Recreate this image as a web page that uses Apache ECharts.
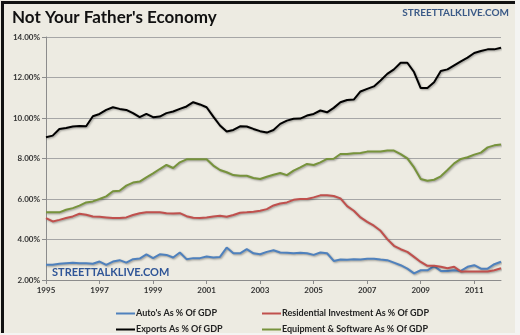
<!DOCTYPE html>
<html>
<head>
<meta charset="utf-8">
<script src="https://cdn.jsdelivr.net/npm/echarts@6/dist/echarts.min.js"></script>
<style>
html,body{margin:0;padding:0;background:#f4f4f2;}
#c{width:520px;height:335px;}
</style>
</head>
<body>
<div id="c"></div>
<script>
// Quarterly categories 1995Q1 .. 2012Q1
var quarters = [];
for (var y = 1995; y <= 2012; y++) { for (var q = 1; q <= 4; q++) { if (y === 2012 && q > 1) break; quarters.push(y + 'Q' + q); } }

var yTicks = [2, 4, 6, 8, 10, 12, 14];

var autos = [2.75,2.75,2.80,2.83,2.85,2.83,2.83,2.80,2.91,2.75,2.91,2.98,2.86,3.03,3.06,3.27,3.08,3.27,3.24,3.11,3.36,3.03,3.08,3.08,
3.16,3.11,3.14,3.60,3.32,3.32,3.52,3.32,3.27,3.39,3.47,3.36,3.34,3.32,3.34,3.32,3.24,3.36,3.32,2.94,3.01,3.00,
3.03,3.01,3.05,3.05,3.01,2.98,2.86,2.73,2.56,2.33,2.48,2.48,2.68,2.45,2.45,2.48,2.45,2.65,2.73,2.56,2.56,2.78,2.90];

var residential = [5.06,4.89,4.97,5.06,5.14,5.27,5.22,5.14,5.12,5.09,5.06,5.06,5.09,5.21,5.30,5.34,5.34,5.34,5.30,5.29,5.30,5.15,5.07,5.06,
5.09,5.14,5.17,5.12,5.21,5.32,5.34,5.37,5.42,5.50,5.68,5.78,5.83,5.96,6.00,6.00,6.08,6.18,6.18,6.15,6.03,5.65,
5.42,5.09,4.87,4.68,4.43,4.02,3.69,3.52,3.39,3.14,2.89,2.70,2.70,2.65,2.58,2.65,2.42,2.42,2.42,2.42,2.42,2.48,2.58];

var exports = [9.05,9.13,9.46,9.51,9.58,9.61,9.59,10.09,10.20,10.40,10.53,10.45,10.40,10.24,10.04,10.20,10.04,10.07,10.24,10.32,10.45,10.57,10.78,10.67,
10.53,10.07,9.63,9.33,9.41,9.59,9.58,9.46,9.35,9.28,9.41,9.71,9.87,9.96,9.97,10.12,10.20,10.37,10.28,10.50,10.78,10.89,
10.91,11.31,11.44,11.56,11.85,12.18,12.40,12.73,12.73,12.27,11.48,11.48,11.77,12.32,12.40,12.60,12.80,12.98,13.21,13.31,13.39,13.39,13.47];

var equipment = [5.34,5.34,5.34,5.47,5.55,5.67,5.83,5.88,6.00,6.13,6.38,6.41,6.66,6.81,6.86,7.07,7.27,7.48,7.68,7.53,7.81,7.96,7.96,7.96,
7.96,7.65,7.43,7.32,7.18,7.15,7.15,7.04,6.99,7.10,7.20,7.28,7.18,7.40,7.56,7.73,7.68,7.81,7.98,7.99,8.22,8.22,
8.26,8.27,8.34,8.34,8.35,8.39,8.39,8.22,8.01,7.56,6.99,6.90,6.95,7.12,7.43,7.76,7.98,8.06,8.19,8.29,8.55,8.65,8.69];

var names = ["Auto's As % Of GDP", "Residential Investment As % Of GDP", "Exports As % Of GDP", "Equipment & Software As % Of GDP"];
var colors = ['#4f81bd', '#c0504d', '#000000', '#77933c'];
var values = [autos, residential, exports, equipment];

var FONT = 'Lato, "Open Sans", sans-serif';
var chart = echarts.init(document.getElementById('c'), null, {renderer: 'canvas'});

var series = names.map(function (n, i) {
  return {
    name: n, type: 'line', data: values[i], symbol: 'none', smooth: false,
    lineStyle: {color: colors[i], width: 2, shadowColor: 'rgba(0,0,0,0.35)', shadowBlur: 2, shadowOffsetX: 1, shadowOffsetY: 1},
    itemStyle: {color: colors[i]}
  };
});

function legendAt(i, left, top) {
  return {
    data: [names[i]], left: left, top: top, orient: 'horizontal',
    icon: 'rect', itemWidth: 19, itemHeight: 2, itemGap: 0, padding: 0,
    textStyle: {fontFamily: FONT, fontSize: 9, fontWeight: 'bold', color: '#222', padding: [0, 0, 0, -4]}
  };
}

chart.setOption({
  backgroundColor: '#edebe2',
  animation: false,
  grid: {left: 46, right: 19, top: 37, bottom: 55},
  xAxis: {
    type: 'category', data: quarters, boundaryGap: false,
    axisLine: {lineStyle: {color: '#8c8c8c', width: 1}},
    axisTick: {show: true, interval: 7, length: 4, lineStyle: {color: '#8c8c8c'}},
    axisLabel: {interval: 7, fontFamily: FONT, fontSize: 8, fontWeight: 'bold', color: '#333', margin: 6,
      formatter: function (v) { return v.slice(0, 4); }},
    splitLine: {show: false}
  },
  yAxis: {
    type: 'value', min: yTicks[0], max: yTicks[yTicks.length - 1], interval: 2,
    axisLine: {show: true, lineStyle: {color: '#8c8c8c'}},
    axisTick: {show: true, length: 4, lineStyle: {color: '#8c8c8c'}},
    axisLabel: {fontFamily: FONT, fontSize: 8, fontWeight: 'bold', color: '#333', margin: 6,
      formatter: function (v) { return v.toFixed(2) + '%'; }},
    splitLine: {show: true, lineStyle: {color: '#a6a6a6', width: 1}}
  },
  legend: [legendAt(0, 116, 309), legendAt(1, 262, 309), legendAt(2, 116, 325), legendAt(3, 262, 325)],
  series: series,
  graphic: [
    {type: 'rect', left: 0, top: 0, shape: {width: 514, height: 332}, style: {fill: 'none', stroke: '#111', lineWidth: 3}, silent: true},
    {type: 'rect', left: 515, top: 0, shape: {width: 6, height: 335}, style: {fill: '#f4f4f2'}, silent: true},
    {type: 'rect', left: 0, top: 333, shape: {width: 520, height: 3}, style: {fill: '#f4f4f2'}, silent: true},
    {type: 'text', left: 12, top: 9, style: {text: "Not Your Father's Economy", font: 'bold 17px ' + FONT, fill: '#111'}},
    {type: 'text', right: 11, top: 8, style: {text: 'STREETTALKLIVE.COM', font: 'bold 10px ' + FONT, fill: '#3b5a87'}},
    {type: 'text', left: 52, top: 267, style: {text: 'STREETTALKLIVE.COM', font: 'bold 11px ' + FONT, fill: '#2f5597'}}
  ]
});
</script>
</body>
</html>
